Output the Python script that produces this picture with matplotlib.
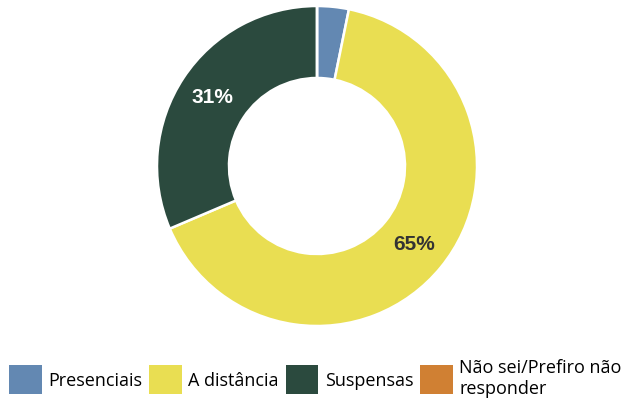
import matplotlib
matplotlib.use("Agg")
import matplotlib.pyplot as plt
from matplotlib.patches import Patch
import numpy as np

categories = ["Presenciais", "A distância", "Suspensas", "Não sei/Prefiro não\nresponder"]
values = [3.2, 65.4, 31.4, 0.0]
labels_shown = ["", "65%", "31%", ""]
colors = ["#6388b2", "#e9de52", "#2b4a3e", "#d08033"]
label_colors = ["white", "#333333", "white", "white"]

fig = plt.figure(figsize=(6.31, 4.03), dpi=100)
W, H = 631, 403
cx, cy, R = 317, 166, 160
ax = fig.add_axes([(cx - R) / W, (H - cy - R) / H, 2 * R / W, 2 * R / H])

wedges, _ = ax.pie(values, colors=colors, startangle=90, counterclock=False, radius=1.0,
                   wedgeprops=dict(width=0.45, edgecolor="white", linewidth=1.8))
ax.set_xlim(-1, 1)
ax.set_ylim(-1, 1)
ax.set_aspect("equal")
ax.axis("off")

total = sum(values)
start = 0.0
for v, lab, lc in zip(values, labels_shown, label_colors):
    mid = start + v / 2
    start += v
    if not lab:
        continue
    ang = np.deg2rad(90 - mid / total * 360)
    r = 0.78
    ax.text(r * np.cos(ang), r * np.sin(ang), lab, ha="center", va="center",
            fontsize=15, fontweight="bold", color=lc, family="Liberation Sans")

handles = [Patch(facecolor=c, edgecolor="none") for c in colors]
fig.legend(handles, categories, loc="center", bbox_to_anchor=(0.5, 1 - 378.5 / H), ncol=4,
           frameon=False, prop=dict(family="Open Sans", size=13),
           handlelength=1.8, handleheight=2.1, handletextpad=0.35, columnspacing=0.4,
           borderaxespad=0, borderpad=0, labelspacing=0.1)

fig.savefig("out.png", dpi=100)
